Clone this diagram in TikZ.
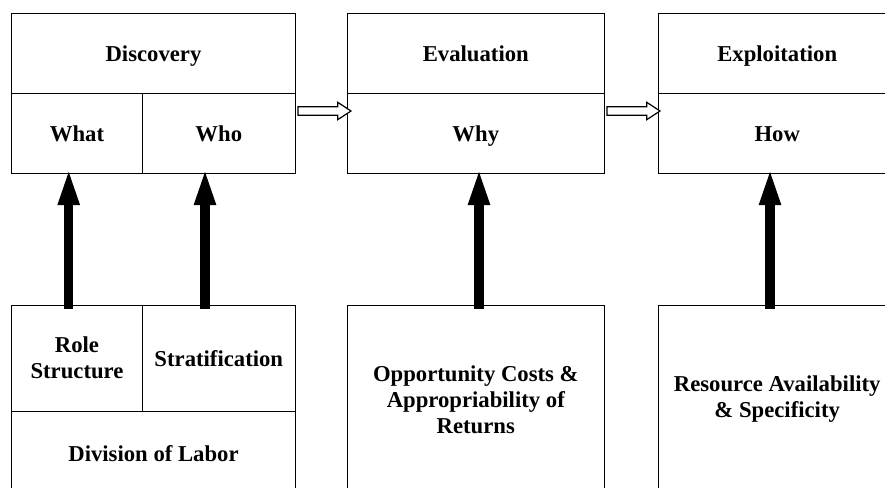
\documentclass[tikz,border=0pt]{standalone}
\usepackage{fontspec}
\setmainfont{Liberation Serif}
\usetikzlibrary{arrows.meta}
\begin{document}
\begin{tikzpicture}[x=1pt,y=-1pt,
  box/.style={draw,line width=1pt,inner sep=0pt,align=center,
    font=\bfseries\fontsize{22.7}{26}\selectfont},
  oneline/.style={text height=20.5pt,text depth=4.5pt},
  bigarrow/.style={line width=9.5pt,-{Triangle[length=38pt,width=19pt]}},
  hollow/.style={draw,line width=1.2pt,fill=white,line join=miter}]
\useasboundingbox (0,0) rectangle (885,487);
\clip (0,0) rectangle (885,487);
% top row
\node[box,oneline,minimum width=283.6pt,minimum height=80pt] (disc) at (153.5,53.3) {Discovery};
\node[box,oneline,minimum width=130.6pt,minimum height=80pt] (what) at (77,133.3) {What};
\node[box,oneline,minimum width=153pt,minimum height=80pt] (who) at (218.8,133.3) {Who};
\node[box,oneline,minimum width=257pt,minimum height=80pt] (eval) at (475.8,53.3) {Evaluation};
\node[box,oneline,minimum width=257pt,minimum height=80pt] (why) at (475.8,133.3) {Why};
\node[box,oneline,minimum width=238pt,minimum height=80pt] (expl) at (777.2,53.3) {Exploitation};
\node[box,oneline,minimum width=238pt,minimum height=80pt] (how) at (777.2,133.3) {How};
% bottom row
\node[box,minimum width=130.6pt,minimum height=105.7pt] (role) at (77,358.2) {Role\\Structure};
\node[box,oneline,minimum width=153pt,minimum height=105.7pt] (strat) at (218.8,358.2) {Stratification};
\node[box,oneline,minimum width=283.6pt,minimum height=84pt] (div) at (153.5,453) {Division of Labor};
\node[box,minimum width=257pt,minimum height=188pt] (opp) at (475.8,399.3) {Opportunity Costs \&\\Appropriability of\\Returns};
\node[box,minimum width=238pt,minimum height=188pt] (res) at (777.2,399.3) {Resource Availability\\\& Specificity};
% hollow arrows between stages
\coordinate (h1) at (298,111);
\coordinate (h2) at (607,111);
\draw[hollow] (h1) ++(0,-4.3) -- ++(39.7,0) -- ++(0,-4.4) -- ++(13.3,8.7)
  -- ++(-13.3,8.7) -- ++(0,-4.4) -- ++(-39.7,0) -- cycle;
\draw[hollow] (h2) ++(0,-4.3) -- ++(39.7,0) -- ++(0,-4.4) -- ++(13.3,8.7)
  -- ++(-13.3,8.7) -- ++(0,-4.4) -- ++(-39.7,0) -- cycle;
% thick arrows
\coordinate (a1s) at (68.7,309.3);  \coordinate (a1e) at (68.7,167);
\coordinate (a2s) at (205,309.3);   \coordinate (a2e) at (205,167);
\coordinate (a3s) at (479,309.3);   \coordinate (a3e) at (479,167);
\coordinate (a4s) at (770,309.3);   \coordinate (a4e) at (770,167);
\draw[bigarrow] (a1s) -- (a1e);
\draw[bigarrow] (a2s) -- (a2e);
\draw[bigarrow] (a3s) -- (a3e);
\draw[bigarrow] (a4s) -- (a4e);
\end{tikzpicture}
\end{document}
